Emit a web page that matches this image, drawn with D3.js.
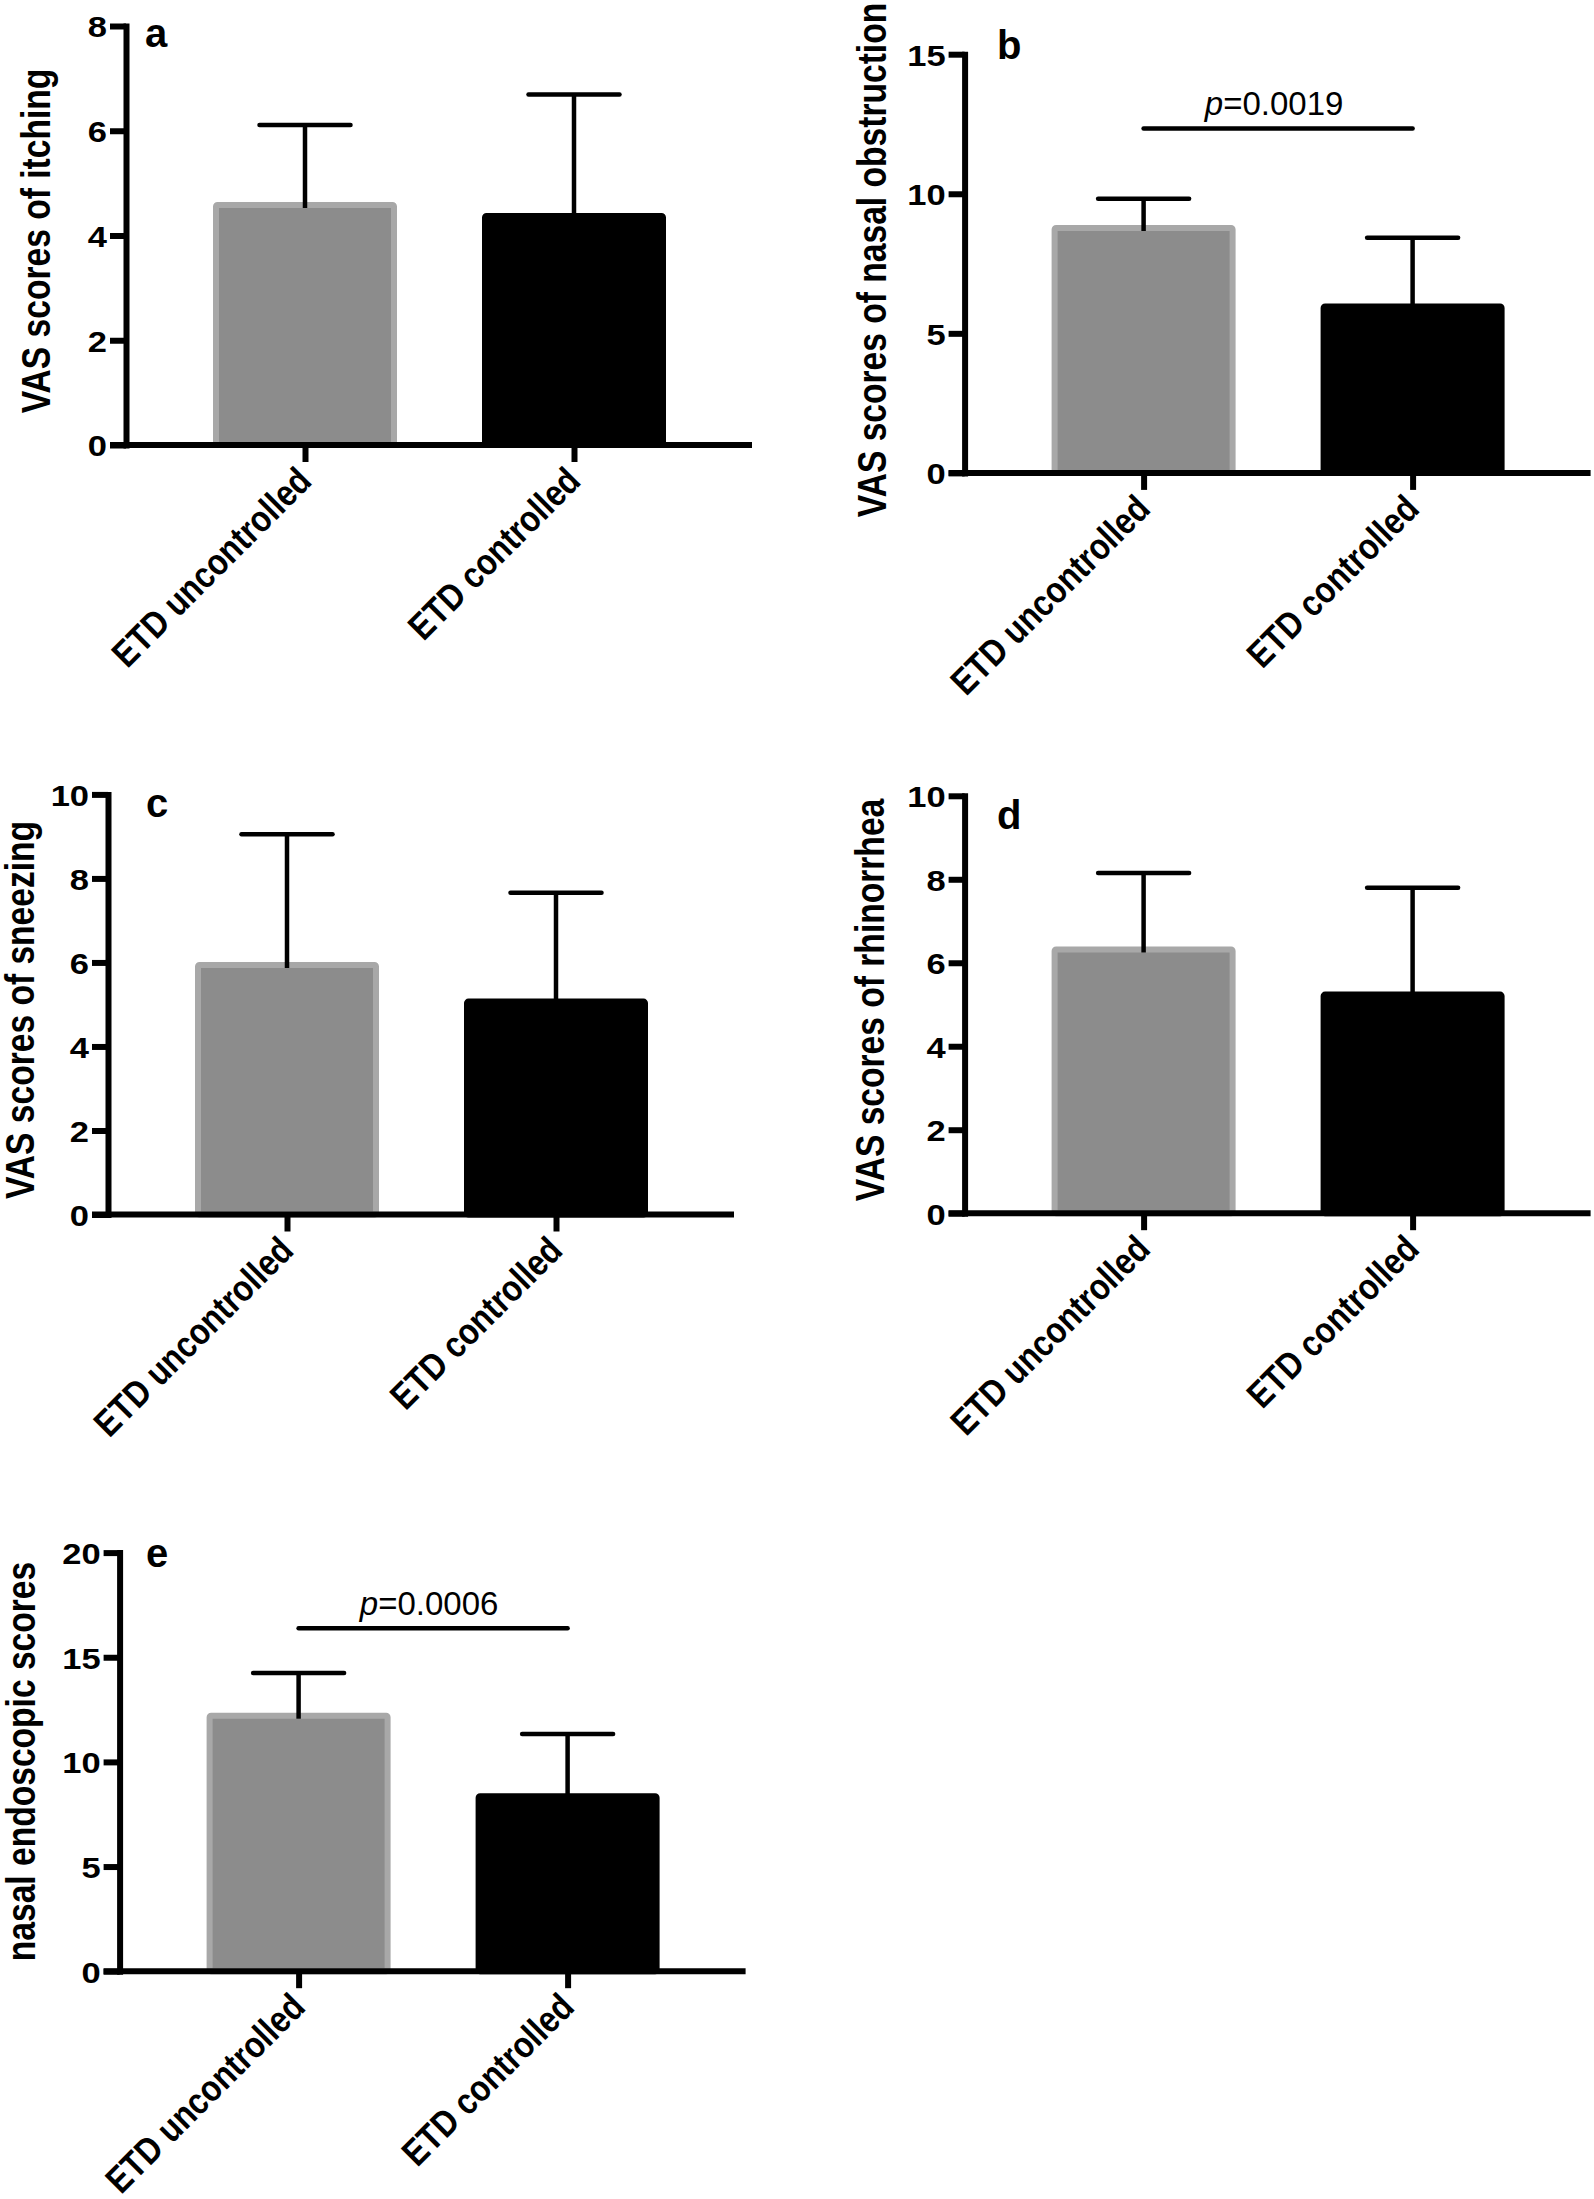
<!DOCTYPE html>
<html>
<head>
<meta charset="utf-8">
<script src="https://cdn.jsdelivr.net/npm/d3@7"></script>
<style>
  html, body { margin: 0; padding: 0; background: #ffffff; }
  svg { display: block; }
  text { font-family: Arial, "Liberation Sans", Helvetica, sans-serif; }
</style>
</head>
<body>
<script>
// ---------------- data ----------------
const categories = ["ETD uncontrolled", "ETD controlled"];

const itchingMean = [4.64, 4.43];
const itchingSD = [1.47, 2.26];

const obstructionMean = [8.88, 6.07];
const obstructionSD = [0.94, 2.35];

const sneezingMean = [6.01, 5.14];
const sneezingSD = [3.04, 2.52];

const rhinorrheaMean = [6.39, 5.31];
const rhinorrheaSD = [1.76, 2.49];

const endoscopicMean = [12.35, 8.50];
const endoscopicSD = [1.90, 2.83];

const ticksA = [0, 2, 4, 6, 8];
const ticksB = [0, 5, 10, 15];
const ticksC = [0, 2, 4, 6, 8, 10];
const ticksD = [0, 2, 4, 6, 8, 10];
const ticksE = [0, 5, 10, 15, 20];

const titles = [
  "VAS scores of itching",
  "VAS scores of nasal obstruction",
  "VAS scores of sneezing",
  "VAS scores of rhinorrhea",
  "nasal endoscopic scores"
];
const panelLetters = ["a", "b", "c", "d", "e"];

// significance brackets
const sigPanels = [1, 4];
const sigLevels = [12.34, 16.39];
const sigTexts = ["=0.0019", "=0.0006"];

// ---------------- layout ----------------
const panels = [
  { mean: itchingMean, sd: itchingSD, ticks: ticksA, x0: 126, yBot: 445, yTop: 26,
    title: { x: 35, y: 241 }, letter: { x: 145, y: 47 } },
  { mean: obstructionMean, sd: obstructionSD, ticks: ticksB, x0: 964.6, yBot: 472.9, yTop: 54.2,
    title: { x: 871, y: 260 }, letter: { x: 997, y: 59 } },
  { mean: sneezingMean, sd: sneezingSD, ticks: ticksC, x0: 108, yBot: 1214.5, yTop: 794.4,
    title: { x: 19, y: 1010 }, letter: { x: 146, y: 817 } },
  { mean: rhinorrheaMean, sd: rhinorrheaSD, ticks: ticksD, x0: 964.6, yBot: 1213.2, yTop: 795.8,
    title: { x: 869, y: 1000 }, letter: { x: 997, y: 829 } },
  { mean: endoscopicMean, sd: endoscopicSD, ticks: ticksE, x0: 119.6, yBot: 1971.2, yTop: 1552.6,
    title: { x: 20, y: 1761.5 }, letter: { x: 146, y: 1567 } }
];

const W = 1594, H = 2199;
const barW = 184, capHalf = 45.5, axisW = 6;
const fills = ["#8c8c8c", "#000000"];
const strokes = ["#a8a8a8", "#000000"];
const tickScaleX = 1.15, titleScaleX = 1.15;

const svg = d3.select("body").append("svg")
  .attr("width", W).attr("height", H)
  .attr("viewBox", `0 0 ${W} ${H}`);

// helper: give a bold text the length it would have at `lenSize`, drawn at `drawSize`
function fitLength(sel, lenSize, drawSize) {
  sel.each(function () {
    const t = d3.select(this);
    t.attr("font-size", lenSize);
    const L = this.getComputedTextLength();
    t.attr("font-size", drawSize)
      .attr("textLength", L)
      .attr("lengthAdjust", "spacingAndGlyphs");
  });
}

panels.forEach((p, i) => {
  const g = svg.append("g");
  const maxV = d3.max(p.ticks);
  const y = d3.scaleLinear().domain([0, maxV]).range([p.yBot, p.yTop]);
  const x = d3.scalePoint().domain(categories).range([p.x0 + 179, p.x0 + 448]);

  // bars
  g.selectAll("rect.bar").data(categories).join("rect")
    .attr("class", "bar")
    .attr("x", d => x(d) - barW / 2 + 3)
    .attr("width", barW - 6)
    .attr("y", (d, j) => y(p.mean[j]) + 3)
    .attr("height", (d, j) => p.yBot - y(p.mean[j]) - 3)
    .attr("fill", (d, j) => fills[j])
    .attr("stroke", (d, j) => strokes[j])
    .attr("stroke-width", 6)
    .attr("rx", 1.5);

  // error bars
  const eb = g.selectAll("g.err").data(categories).join("g").attr("class", "err");
  eb.append("line")
    .attr("x1", d => x(d)).attr("x2", d => x(d))
    .attr("y1", (d, j) => y(p.mean[j]) + 6)
    .attr("y2", (d, j) => y(p.mean[j] + p.sd[j]))
    .attr("stroke", "#000").attr("stroke-width", 4.5);
  eb.append("line")
    .attr("x1", d => x(d) - capHalf).attr("x2", d => x(d) + capHalf)
    .attr("y1", (d, j) => y(p.mean[j] + p.sd[j]))
    .attr("y2", (d, j) => y(p.mean[j] + p.sd[j]))
    .attr("stroke", "#000").attr("stroke-width", 4.5).attr("stroke-linecap", "round");

  // y axis
  const yAxis = d3.axisLeft(y).tickValues(p.ticks).tickSize(16).tickSizeOuter(0).tickPadding(3);
  const ga = g.append("g").attr("transform", `translate(${p.x0},0)`).call(yAxis);
  ga.select(".domain").attr("stroke", "#000").attr("stroke-width", axisW).attr("stroke-linecap", "square");
  ga.selectAll(".tick line").attr("stroke", "#000").attr("stroke-width", axisW);
  ga.selectAll(".tick text")
    .attr("fill", "#000")
    .attr("font-size", 30).attr("font-weight", "bold")
    .attr("x", -19 / tickScaleX)
    .attr("dy", "0.36em")
    .attr("transform", `scale(${tickScaleX},1)`);

  // x axis line
  g.append("line")
    .attr("x1", p.x0 - 16).attr("x2", p.x0 + 626)
    .attr("y1", p.yBot).attr("y2", p.yBot)
    .attr("stroke", "#000").attr("stroke-width", axisW);

  const xAxis = d3.axisBottom(x).tickSize(17).tickSizeOuter(0);
  const gx = g.append("g").attr("transform", `translate(0,${p.yBot})`).call(xAxis);
  gx.select(".domain").remove();
  gx.selectAll(".tick line").attr("stroke", "#000").attr("stroke-width", axisW);
  gx.selectAll(".tick text")
    .attr("fill", "#000")
    .attr("font-weight", "bold")
    .attr("x", 0).attr("y", 0).attr("dy", 0)
    .attr("text-anchor", "end")
    .attr("transform", "translate(8,38) rotate(-45)")
    .call(fitLength, 31.6, 37);

  // y title
  g.append("text")
    .attr("transform", `translate(${p.title.x},${p.title.y}) scale(${titleScaleX},1) rotate(-90)`)
    .attr("text-anchor", "middle")
    .attr("dy", "0.36em")
    .attr("font-weight", "bold")
    .attr("fill", "#000")
    .text(titles[i])
    .call(fitLength, 33.6, 36);

  // panel letter
  g.append("text")
    .attr("x", p.letter.x).attr("y", p.letter.y)
    .attr("font-size", 40).attr("font-weight", "bold")
    .attr("fill", "#000")
    .text(panelLetters[i]);

  // significance
  const si = sigPanels.indexOf(i);
  if (si >= 0) {
    const ly = y(sigLevels[si]);
    g.append("line")
      .attr("x1", x(categories[0])).attr("x2", x(categories[1]))
      .attr("y1", ly).attr("y2", ly)
      .attr("stroke", "#000").attr("stroke-width", 4.5).attr("stroke-linecap", "round");
    const t = g.append("text")
      .attr("x", (x(categories[0]) + x(categories[1])) / 2 - 4)
      .attr("y", ly - 13)
      .attr("text-anchor", "middle")
      .attr("font-size", 33)
      .attr("fill", "#000");
    t.append("tspan").attr("font-style", "italic").text("p");
    t.append("tspan").text(sigTexts[si]);
  }
});
</script>
</body>
</html>
